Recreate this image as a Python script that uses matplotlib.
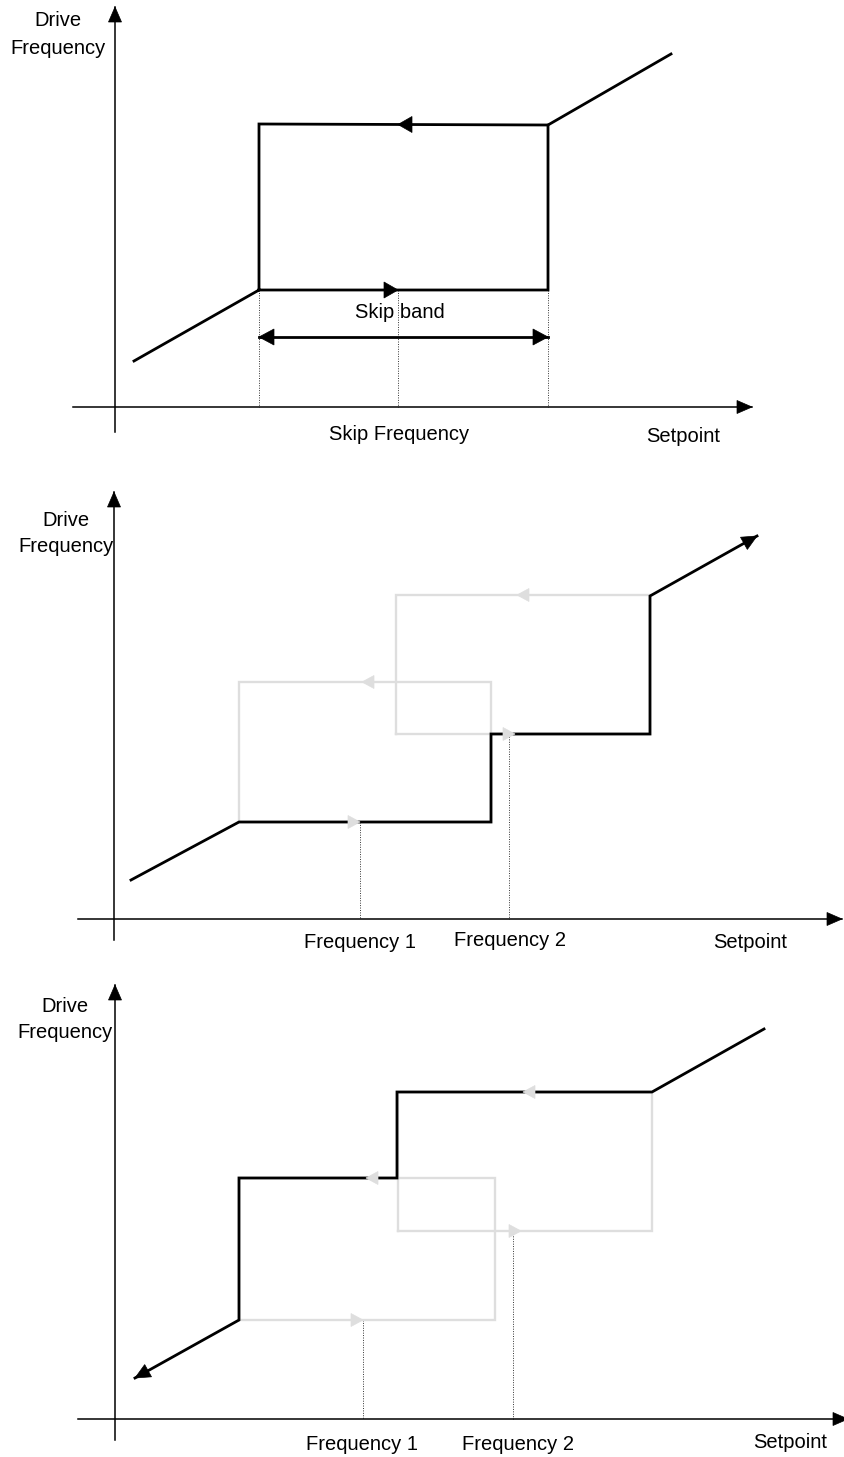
import matplotlib.pyplot as plt
from matplotlib.patches import Polygon
import numpy as np

# ---- panel 1: single skip band (pixel coordinates of the drawing) ----
p1_axis_x, p1_axis_y = 115, 407
p1_axis_xspan, p1_axis_yspan = (73, 752), (432, 7)
p1_path_x = [134, 259, 259, 548, 548, 259]
p1_path_y = [361, 290, 124, 125, 290, 290]
p1_tail_x, p1_tail_y = [548, 671], [125, 54]
p1_marks = [398]          # skip frequency
p1_band = (259, 548)
p1_band_y = 337

# ---- panel 2: two skip bands, rising setpoint ----
p2_axis_x, p2_axis_y = 114, 919
p2_axis_xspan, p2_axis_yspan = (78, 842), (940, 492)
p2_black_x = [131, 239, 491, 491, 650, 650, 757]
p2_black_y = [880, 822, 822, 734, 734, 596, 536]
p2_box1 = (239, 491, 822, 682)   # left, right, low, high
p2_box2 = (396, 650, 734, 595)
p2_marks = [360, 509]
p2_mark_top = [822, 734]

# ---- panel 3: two skip bands, falling setpoint ----
p3_axis_x, p3_axis_y = 115, 1419
p3_axis_xspan, p3_axis_yspan = (78, 848), (1440, 985)
p3_black_x = [135, 239, 239, 397, 397, 652, 764]
p3_black_y = [1378, 1320, 1178, 1178, 1092, 1092, 1029]
p3_box1 = (239, 495, 1320, 1178)
p3_box2 = (398, 652, 1231, 1092)
p3_marks = [363, 513]
p3_mark_top = [1320, 1231]

GRAY = '#dedede'
FONT = ['Liberation Sans', 'DejaVu Sans']
FS = 14.5
LW = 2.0


def head(ax, tip, frm, color='black', length=12, width=13, z=5):
    """Filled triangular arrow head with its tip at `tip`, pointing away from `frm`."""
    tip = np.array(tip, float)
    d = tip - np.array(frm, float)
    d /= np.hypot(*d)
    n = np.array([-d[1], d[0]])
    base = tip - d * length
    pts = [tip, base + n * width / 2, base - n * width / 2]
    ax.add_patch(Polygon(pts, closed=True, facecolor=color, edgecolor=color, lw=0.5, zorder=z))


def axes_arrows(ax, x0, y0, xspan, yspan):
    ax.plot(xspan, [y0, y0], color='black', lw=1.1, zorder=3)
    ax.plot([x0, x0], yspan, color='black', lw=1.1, zorder=3)
    head(ax, (xspan[1], y0), (xspan[0], y0), length=15, width=13)
    head(ax, (x0, yspan[1]), (x0, yspan[0]), length=15, width=13)


def box(ax, b, color=GRAY, lw=1.7, z=2):
    l, r, lo, hi = b
    ax.plot([l, r, r, l, l], [lo, lo, hi, hi, lo], color=color, lw=lw, zorder=z,
            solid_joinstyle='miter')


def label(ax, x, y, s):
    ax.text(x, y, s, ha='center', va='center', fontsize=FS, family=FONT)


def dotted(ax, x, top, bottom):
    ax.plot([x, x], [top, bottom], color='#333333', lw=0.7, ls=(0, (1, 1.5)), zorder=1)


fig = plt.figure(figsize=(8.45, 14.57), dpi=100)
ax = fig.add_axes([0, 0, 1, 1])
ax.set_xlim(0, 845)
ax.set_ylim(1457, 0)
ax.axis('off')

# ---------------- panel 1 ----------------
axes_arrows(ax, p1_axis_x, p1_axis_y, p1_axis_xspan, p1_axis_yspan)
ax.plot(p1_path_x, p1_path_y, color='black', lw=LW, zorder=4, solid_joinstyle='miter')
ax.plot(p1_tail_x, p1_tail_y, color='black', lw=LW, zorder=4)
head(ax, (p1_marks[0], p1_path_y[4]), (p1_path_x[1], p1_path_y[4]), length=14, width=16)
head(ax, (p1_marks[0], 124.5), (p1_path_x[3], 124.5), length=14, width=16)
for x in [p1_band[0], p1_marks[0], p1_band[1]]:
    dotted(ax, x, p1_path_y[1], p1_axis_y)
ax.plot(p1_band, [p1_band_y, p1_band_y], color='black', lw=LW, zorder=4)
head(ax, (p1_band[0], p1_band_y), (p1_band[1], p1_band_y), length=15, width=16)
head(ax, (p1_band[1], p1_band_y), (p1_band[0], p1_band_y), length=15, width=16)
label(ax, 400, 313, 'Skip band')
label(ax, 399, 435, 'Skip Frequency')
label(ax, 683, 436, 'Setpoint')
label(ax, 58, 21, 'Drive')
label(ax, 58, 49, 'Frequency')

# ---------------- panel 2 ----------------
axes_arrows(ax, p2_axis_x, p2_axis_y, p2_axis_xspan, p2_axis_yspan)
box(ax, p2_box1)
box(ax, p2_box2)
head(ax, (p2_marks[0], p2_box1[2]), (p2_box1[0], p2_box1[2]), color=GRAY)
head(ax, (362, p2_box1[3]), (p2_box1[1], p2_box1[3]), color=GRAY)
head(ax, (515, p2_box2[2]), (p2_box2[0], p2_box2[2]), color=GRAY)
head(ax, (517, p2_box2[3]), (p2_box2[1], p2_box2[3]), color=GRAY)
ax.plot(p2_black_x, p2_black_y, color='black', lw=LW, zorder=4, solid_joinstyle='miter')
head(ax, (p2_black_x[-1], p2_black_y[-1]), (p2_black_x[-2], p2_black_y[-2]), length=15, width=14)
for x, top in zip(p2_marks, p2_mark_top):
    dotted(ax, x, top, p2_axis_y)
label(ax, 360, 943, 'Frequency 1')
label(ax, 510, 941, 'Frequency 2')
label(ax, 750, 942, 'Setpoint')
label(ax, 66, 521, 'Drive')
label(ax, 66, 547, 'Frequency')

# ---------------- panel 3 ----------------
axes_arrows(ax, p3_axis_x, p3_axis_y, p3_axis_xspan, p3_axis_yspan)
box(ax, p3_box1)
box(ax, p3_box2)
head(ax, (p3_marks[0], p3_box1[2]), (p3_box1[0], p3_box1[2]), color=GRAY)
head(ax, (366, p3_box1[3]), (p3_box1[1], p3_box1[3]), color=GRAY)
head(ax, (521, p3_box2[2]), (p3_box2[0], p3_box2[2]), color=GRAY)
head(ax, (523, p3_box2[3]), (p3_box2[1], p3_box2[3]), color=GRAY)
ax.plot(p3_black_x, p3_black_y, color='black', lw=LW, zorder=4, solid_joinstyle='miter')
head(ax, (p3_black_x[0], p3_black_y[0]), (p3_black_x[1], p3_black_y[1]), length=15, width=14)
for x, top in zip(p3_marks, p3_mark_top):
    dotted(ax, x, top, p3_axis_y)
label(ax, 362, 1445, 'Frequency 1')
label(ax, 518, 1445, 'Frequency 2')
label(ax, 790, 1443, 'Setpoint')
label(ax, 65, 1007, 'Drive')
label(ax, 65, 1033, 'Frequency')

fig.savefig('out.png', dpi=100, facecolor='white')
